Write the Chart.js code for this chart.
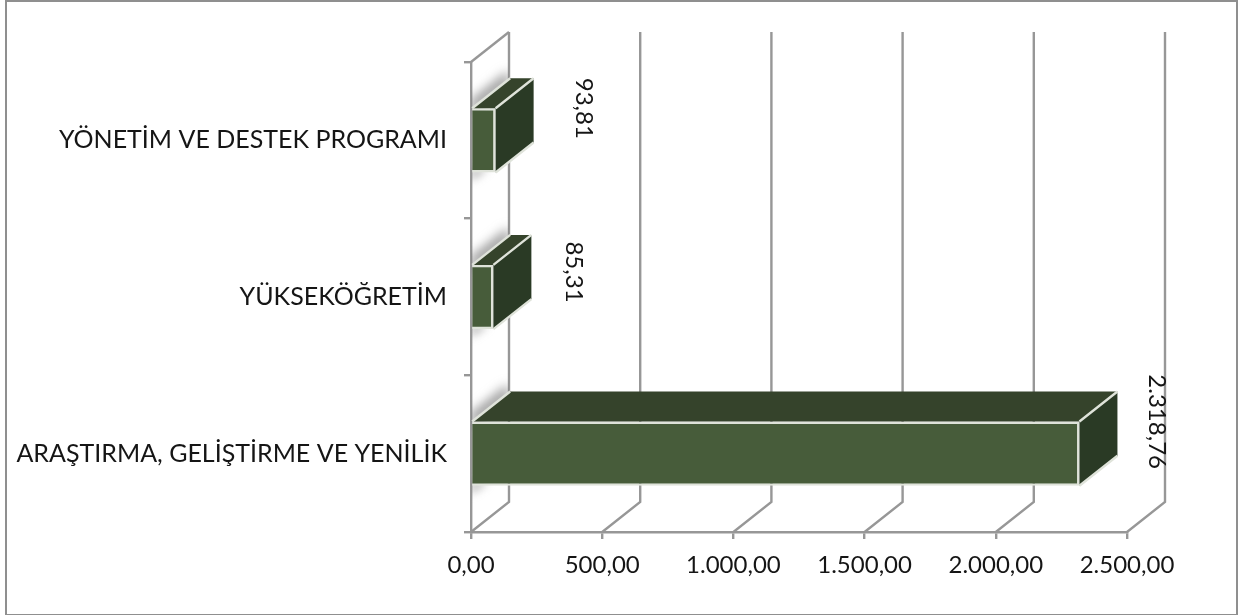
<!DOCTYPE html>
<html lang="tr">
<head>
<meta charset="utf-8">
<title>Chart</title>
<script src="https://cdn.jsdelivr.net/npm/chart.js@4"></script>
<style>
html,body{margin:0;padding:0;background:#fff;overflow:hidden}
#wrap{position:relative;width:1247px;height:615px}
#frame{position:absolute;left:5px;top:0;width:1229px;height:612px;border:2.5px solid #8f8f8f;pointer-events:none}
canvas{position:absolute;left:0;top:0}
</style>
</head>
<body>
<div id="wrap"><canvas id="c" width="1247" height="615"></canvas><div id="frame"></div></div>
<script>
const categories = ["YÖNETİM VE DESTEK PROGRAMI", "YÜKSEKÖĞRETİM", "ARAŞTIRMA, GELİŞTİRME VE YENİLİK"];
const values = [93.81, 85.31, 2318.76];
const axisMax = 2500;
const axisStep = 500;

const DX = 38, DY = -30;
const FAMILY = 'Lato, "Open Sans", sans-serif';
const FONT = '24px ' + FAMILY;
const TEXT = '#151515', GRID = '#979797';
const labelShift = [[50, -32], [42, -25], [39, -32]];

function fmt(v) {
  const [i, d] = v.toFixed(2).split('.');
  return i.replace(/\B(?=(\d{3})+(?!\d))/g, '.') + ',' + d;
}
function poly(ctx, pts) {
  ctx.beginPath();
  pts.forEach((p, i) => i ? ctx.lineTo(p[0], p[1]) : ctx.moveTo(p[0], p[1]));
  ctx.closePath();
}

const walls = {
  id: 'walls',
  beforeDatasetsDraw(chart) {
    const { ctx, chartArea: a, scales: { x } } = chart;
    ctx.save();
    ctx.strokeStyle = GRID;
    ctx.lineWidth = 2.4;
    ctx.lineJoin = 'miter';
    x.ticks.forEach(t => {
      const px = x.getPixelForValue(t.value);
      ctx.beginPath();
      ctx.moveTo(px, a.bottom);
      ctx.lineTo(px + DX, a.bottom + DY);
      ctx.lineTo(px + DX, a.top + DY);
      ctx.stroke();
    });
    ctx.beginPath();
    ctx.moveTo(a.left, a.top);
    ctx.lineTo(a.left + DX, a.top + DY);
    ctx.stroke();

    // soft shadows cast on the side wall
    const meta = chart.getDatasetMeta(0);
    ctx.save();
    poly(ctx, [[a.left, a.top], [a.left + DX, a.top + DY], [a.left + DX, a.bottom + DY], [a.left, a.bottom]]);
    ctx.clip();
    meta.data.forEach(b => {
      const top = b.y - b.height / 2, bot = b.y + b.height / 2;
      ctx.filter = 'blur(6px)';
      ctx.fillStyle = 'rgba(110,110,110,0.85)';
      poly(ctx, [[a.left, top - 7], [a.left + DX, top + DY - 7], [a.left + DX, top + DY + 5], [a.left, top + 5]]);
      ctx.fill();
      ctx.filter = 'blur(4px)';
      ctx.fillStyle = 'rgba(130,130,130,0.55)';
      poly(ctx, [[a.left, bot - 4], [a.left + 18, bot - 4], [a.left, bot + 9]]);
      ctx.fill();
    });
    ctx.restore();
    ctx.restore();
  }
};

const bars3d = {
  id: 'bars3d',
  afterDatasetsDraw(chart) {
    const { ctx } = chart;
    const meta = chart.getDatasetMeta(0);
    ctx.save();
    ctx.lineWidth = 2.4;
    ctx.strokeStyle = '#dfe3da';
    ctx.lineJoin = 'round';
    meta.data.forEach((b, i) => {
      const l = b.base, r = b.x, t = b.y - b.height / 2, d = b.y + b.height / 2;
      ctx.fillStyle = '#35432B';
      poly(ctx, [[l, t], [l + DX, t + DY], [r + DX, t + DY], [r, t]]);
      ctx.fill();
      ctx.fillStyle = '#2A3A25';
      poly(ctx, [[r, t], [r + DX, t + DY], [r + DX, d + DY], [r, d]]);
      ctx.fill();
      ctx.beginPath();
      ctx.moveTo(l, t); ctx.lineTo(l + DX, t + DY);
      ctx.moveTo(r, t); ctx.lineTo(r + DX, t + DY);
      ctx.moveTo(r, d); ctx.lineTo(r + DX, d + DY);
      ctx.stroke();
      ctx.save();
      ctx.translate(r + DX + labelShift[i][0], b.y + labelShift[i][1]);
      ctx.rotate(Math.PI / 2);
      ctx.font = FONT;
      ctx.fillStyle = TEXT;
      ctx.textAlign = 'center';
      ctx.textBaseline = 'middle';
      ctx.fillText(fmt(values[i]), 0, 0);
      ctx.restore();
    });
    ctx.restore();
  }
};

new Chart(document.getElementById('c'), {
  type: 'bar',
  data: {
    labels: categories,
    datasets: [{
      data: values,
      backgroundColor: '#475C3A',
      borderColor: '#dfe3da',
      borderWidth: 2.4,
      categoryPercentage: 1,
      barPercentage: 0.41
    }]
  },
  options: {
    indexAxis: 'y',
    responsive: false,
    animation: false,
    layout: { padding: { left: 0, right: 120, top: 62, bottom: 0 } },
    plugins: { legend: { display: false }, tooltip: { enabled: false } },
    scales: {
      x: {
        min: 0, max: axisMax,
        afterFit(s) { s.height = 615 - 532; },
        border: { color: GRID, width: 2.4 },
        grid: { drawOnChartArea: false, drawTicks: true, tickLength: 7, color: GRID, lineWidth: 2.4 },
        ticks: {
          stepSize: axisStep, maxRotation: 0, autoSkip: false, padding: 12,
          color: TEXT, font: { family: FAMILY, size: 24 },
          callback: v => fmt(v)
        }
      },
      y: {
        afterFit(s) { s.width = 471; },
        border: { color: GRID, width: 2.4 },
        grid: { drawOnChartArea: false, drawTicks: true, tickLength: 7, color: GRID, lineWidth: 2.4 },
        ticks: {
          padding: 17, autoSkip: false,
          color: TEXT, font: { family: FAMILY, size: 25 }
        }
      }
    }
  },
  plugins: [walls, bars3d]
});
</script>
</body>
</html>
